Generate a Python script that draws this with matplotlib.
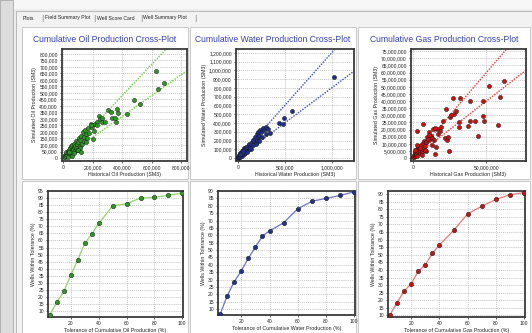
import matplotlib
matplotlib.use("Agg")
import matplotlib.pyplot as plt
from matplotlib.patches import Rectangle
from matplotlib.ticker import FuncFormatter, MultipleLocator

W, H = 532, 333

# ---- data ----
# cross-plots (historical vs simulated)
oil_hist = [5e3, 8e3, 12e3, 15e3, 18e3, 20e3, 25e3, 28e3, 30e3, 35e3, 38e3, 40e3, 45e3, 48e3,
            50e3, 55e3, 58e3, 60e3, 65e3, 70e3, 72e3, 75e3, 80e3, 85e3, 88e3, 90e3, 95e3, 100e3,
            105e3, 110e3, 115e3, 120e3, 125e3, 130e3, 138e3, 140e3, 145e3, 150e3, 160e3, 170e3,
            175e3, 185e3, 195e3, 200e3, 205e3, 215e3, 225e3, 230e3, 240e3, 250e3, 260e3, 265e3,
            280e3, 300e3, 320e3, 330e3, 350e3, 355e3, 365e3, 370e3, 430e3, 480e3, 520e3, 630e3,
            645e3, 685e3, 30e3, 60e3, 110e3, 150e3, 190e3, 100e3, 120e3, 40e3, 70e3]
oil_sim = [10e3, 20e3, 8e3, 30e3, 15e3, 45e3, 25e3, 55e3, 35e3, 20e3, 60e3, 40e3, 75e3, 50e3,
           90e3, 60e3, 45e3, 100e3, 70e3, 85e3, 110e3, 55e3, 95e3, 75e3, 130e3, 105e3, 65e3, 120e3,
           150e3, 90e3, 140e3, 170e3, 110e3, 200e3, 160e3, 130e3, 215e3, 185e3, 150e3, 230e3,
           195e3, 260e3, 240e3, 145e3, 210e3, 260e3, 280e3, 250e3, 320e3, 300e3, 305e3, 275e3,
           280e3, 370e3, 355e3, 310e3, 305e3, 275e3, 380e3, 345e3, 335e3, 445e3, 415e3, 670e3,
           530e3, 580e3, 5e3, 15e3, 80e3, 120e3, 255e3, 60e3, 45e3, 50e3, 35e3]

water_hist = [3e3, 6e3, 10e3, 12e3, 15e3, 20e3, 22e3, 25e3, 30e3, 35e3, 40e3, 45e3, 50e3, 55e3,
              60e3, 65e3, 70e3, 75e3, 80e3, 90e3, 95e3, 100e3, 110e3, 115e3, 120e3, 130e3, 140e3,
              150e3, 160e3, 170e3, 180e3, 190e3, 200e3, 210e3, 215e3, 225e3, 235e3, 250e3, 260e3,
              270e3, 280e3, 300e3, 305e3, 320e3, 340e3, 436e3, 482e3, 493e3, 578e3, 1025e3,
              40e3, 70e3, 100e3, 130e3, 160e3, 190e3, 230e3, 85e3, 50e3, 25e3]
water_sim = [5e3, 15e3, 8e3, 30e3, 20e3, 40e3, 12e3, 55e3, 35e3, 60e3, 25e3, 75e3, 50e3, 90e3,
             70e3, 45e3, 110e3, 80e3, 60e3, 120e3, 95e3, 75e3, 140e3, 105e3, 160e3, 130e3, 100e3,
             180e3, 150e3, 200e3, 245e3, 175e3, 270e3, 220e3, 300e3, 250e3, 320e3, 300e3, 245e3,
             345e3, 320e3, 350e3, 280e3, 330e3, 285e3, 405e3, 385e3, 455e3, 540e3, 930e3,
             50e3, 95e3, 65e3, 120e3, 210e3, 160e3, 190e3, 125e3, 85e3, 45e3]

gas_hist = [0.3e6, 0.5e6, 0.8e6, 1e6, 1.2e6, 1.5e6, 1.8e6, 2e6, 2.3e6, 2.5e6, 2.8e6, 3e6, 3.3e6,
            3.5e6, 4e6, 4.5e6, 5e6, 5.5e6, 6e6, 6.5e6, 7e6, 7.5e6, 8e6, 8.5e6, 9e6, 9.7e6, 10.6e6,
            11e6, 12e6, 12.6e6, 13.3e6, 14.4e6, 14.9e6, 15.5e6, 16e6, 17.1e6, 18.2e6, 20.5e6,
            21.6e6, 22.7e6, 23.2e6, 23.9e6, 24.3e6, 27.3e6, 27.7e6, 29e6, 31e6, 31.3e6, 31.8e6,
            37.4e6, 38.5e6, 38.5e6, 41.9e6, 44.1e6, 47.5e6, 48e6, 48.6e6, 52e6, 57.7e6, 59.5e6,
            61.7e6, 2.5e6, 7e6, 1e6, 4e6, 6e6, 9e6, 11e6, 13e6, 3e6, 5e6, 8e6, 10e6, 15e6, 19e6,
            25e6, 26e6]
gas_sim = [1e6, 2.5e6, 0.5e6, 3.5e6, 1.5e6, 4.5e6, 2e6, 5.5e6, 3e6, 6.5e6, 1.2e6, 4e6, 7.5e6,
           5e6, 8e6, 3.5e6, 6e6, 9e6, 4.5e6, 10.5e6, 6.5e6, 12e6, 8.5e6, 5e6, 11e6, 14.7e6, 18.1e6,
           13e6, 15.5e6, 14e6, 20.4e6, 12.4e6, 2.8e6, 7.8e6, 20.4e6, 17e6, 19.3e6, 26.1e6, 14.2e6,
           34.2e6, 12.4e6, 15.1e6, 5e6, 42.2e6, 31.2e6, 33e6, 22e6, 25.5e6, 42.2e6, 22.7e6, 40.4e6,
           26.1e6, 26.1e6, 15.8e6, 39.9e6, 29.6e6, 25.7e6, 50.7e6, 23.2e6, 42.7e6, 54.1e6, 19.3e6,
           23.9e6, 6e6, 8e6, 2e6, 11e6, 16e6, 9.5e6, 9e6, 7e6, 5.5e6, 13.5e6, 21e6, 21.5e6, 29e6,
           30e6]

# tolerance curves
tol = [5, 10, 15, 20, 25, 30, 35, 40, 50, 60, 70, 80, 90, 100]
oil_within = [7.5, 16.5, 24, 35.5, 46.5, 58, 64.5, 72, 84.5, 86, 90, 90.5, 92, 93.5]
water_within = [6.5, 19, 28.5, 36, 44.5, 52, 59.5, 63, 68.5, 78, 83, 85, 87, 89.5]
gas_within = [10.5, 18.5, 26, 31, 39, 43.5, 51, 56.5, 66, 77, 82, 86.5, 89.5, 91]

tabs = ["Plots", "Field Summary Plot", "Well Score Card", "Well Summary Plot"]
tab_x = [23, 45, 97, 143]
sep_x = [42, 94, 141, 195]


def rect(x0, y0, x1, y1):
    return [x0 / W, 1 - y1 / H, (x1 - x0) / W, (y1 - y0) / H]


def bg(x0, y0, x1, y1, fc, ec="none", lw=0.6):
    fig.patches.append(Rectangle((x0 / W, 1 - y1 / H), (x1 - x0) / W, (y1 - y0) / H,
                                 transform=fig.transFigure, facecolor=fc, edgecolor=ec,
                                 lw=lw, zorder=-10))


fig = plt.figure(figsize=(W / 100, H / 100), dpi=100)
fig.patch.set_facecolor("#ececec")

# window chrome
bg(0, 0, W, 9, "#f7f7f7")
bg(0, 0, 13, H, "#dcdcdc", "#a8a8a8")
bg(16, 11, W + 2, H + 2, "#f2f2f2", "#b0b0b0")
for t, x in zip(tabs, tab_x):
    fig.text(x / W, 1 - 18 / H, t, fontsize=3.7, va="center", ha="left",
             family="Liberation Sans", color="#222222")
for x in sep_x:
    fig.text(x / W, 1 - 18 / H, "|", fontsize=5, va="center", ha="center", color="#777777")

# panels
cols = [(22, 188), (190, 356), (358, 530)]
rows = [(27, 179), (181, 333)]
for (x0, x1) in cols:
    for (y0, y1) in rows:
        bg(x0, y0, x1, y1, "white", "#c8c8c8", 0.7)

comma = FuncFormatter(lambda v, p: f"{int(round(v)):,}")


def style(ax):
    ax.set_facecolor("white")
    for s in ax.spines.values():
        s.set_color("#3a3a3a")
        s.set_linewidth(1.3)
    ax.grid(True, linestyle=(0, (1.5, 1.5)), color="#b0b0b0", lw=0.5)
    ax.set_axisbelow(True)
    ax.tick_params(labelsize=3.6, length=1.5, width=0.5, pad=1.5, colors="#222222")
    for lab in ax.get_xticklabels() + ax.get_yticklabels():
        lab.set_family("Liberation Sans")


cross = [
    ("Cumulative Oil Production Cross-Plot", oil_hist, oil_sim, "#2c9a22", "#6fcf3a",
     "Historical Oil Production (SM3)", "Simulated Oil Production (SM3)",
     (62, 49, 187, 161), (-10e3, 840e3), (-23e3, 838e3), 200e3, 50e3),
    ("Cumulative Water Production Cross-Plot", water_hist, water_sim, "#1f2f8c", "#3a4ac0",
     "Historical Water Production (SM3)", "Simulated Water Production (SM3)",
     (236, 49, 354, 161), (-20e3, 1240e3), (-34e3, 1245e3), 500e3, 100e3),
    ("Cumulative Gas Production Cross-Plot", gas_hist, gas_sim, "#cc1111", "#ee3333",
     "Historical Gas Production (SM3)", "Simulated Gas Production (SM3)",
     (411, 49, 526, 161), (-1.4e6, 77e6), (-2e6, 76.5e6), 50e6, 5e6),
]

for (title, hx, sy, mc, lc, xl, yl, box, xlim, ylim, xstep, ystep), (c0, c1) in zip(cross, cols):
    ax = fig.add_axes(rect(*box))
    ax.plot([0, xlim[1]], [0, 1.2 * xlim[1]], linestyle=(0, (1, 1)), color=lc, lw=1.0)
    ax.plot([0, xlim[1]], [0, 0.8 * xlim[1]], linestyle=(0, (1, 1)), color=lc, lw=1.0)
    ax.scatter(hx, sy, s=9, color=mc, edgecolors="#1a1a1a", linewidths=0.35, zorder=3)
    ax.set_xlim(*xlim)
    ax.set_ylim(*ylim)
    ax.xaxis.set_major_locator(MultipleLocator(xstep))
    ax.yaxis.set_major_locator(MultipleLocator(ystep))
    ax.xaxis.set_major_formatter(comma)
    ax.yaxis.set_major_formatter(comma)
    ax.set_xlabel(xl, fontsize=3.8, labelpad=1.5, family="Liberation Sans", color="#222222")
    ax.set_ylabel(yl, fontsize=3.8, labelpad=1.5, family="Liberation Sans", color="#222222")
    fig.text((c0 + c1) / 2 / W, 1 - 40 / H, title, fontsize=6.2, color="#3343b3",
             ha="center", va="center", family="Liberation Sans")
    style(ax)

tolerance = [
    (oil_within, "#2c9a22", "#8fd46a", "Tolerance of Cumulative Oil Production (%)",
     (48, 191, 183, 317), (3.6, 100.5), (5.8, 95), 95),
    (water_within, "#22338c", "#6b72c9", "Tolerance of Cumulative Water Production (%)",
     (218, 191, 355, 315), (3.5, 100.5), (6.0, 90), 90),
    (gas_within, "#cc1111", "#f07878", "Tolerance of Cumulative Gas Production (%)",
     (388, 191, 525, 317), (3.6, 100.5), (9.0, 92), 90),
]

for (yv, mc, lc, xl, box, xlim, ylim, ytop) in tolerance:
    ax = fig.add_axes(rect(*box))
    ax.plot(tol, yv, color=lc, lw=0.9, marker="o", ms=3.2, markerfacecolor=mc,
            markeredgecolor="#1a1a1a", markeredgewidth=0.35, zorder=3)
    ax.set_xlim(*xlim)
    ax.set_ylim(*ylim)
    ax.set_xticks([20, 40, 60, 80, 100])
    ax.set_yticks(list(range(10, ytop + 1, 5)))
    ax.set_xlabel(xl, fontsize=3.8, labelpad=1.5, family="Liberation Sans", color="#222222")
    ax.set_ylabel("Wells Within Tolerance (%)", fontsize=3.8, labelpad=1.5,
                  family="Liberation Sans", color="#222222")
    style(ax)

fig.savefig("out.png", dpi=100, facecolor=fig.get_facecolor())
